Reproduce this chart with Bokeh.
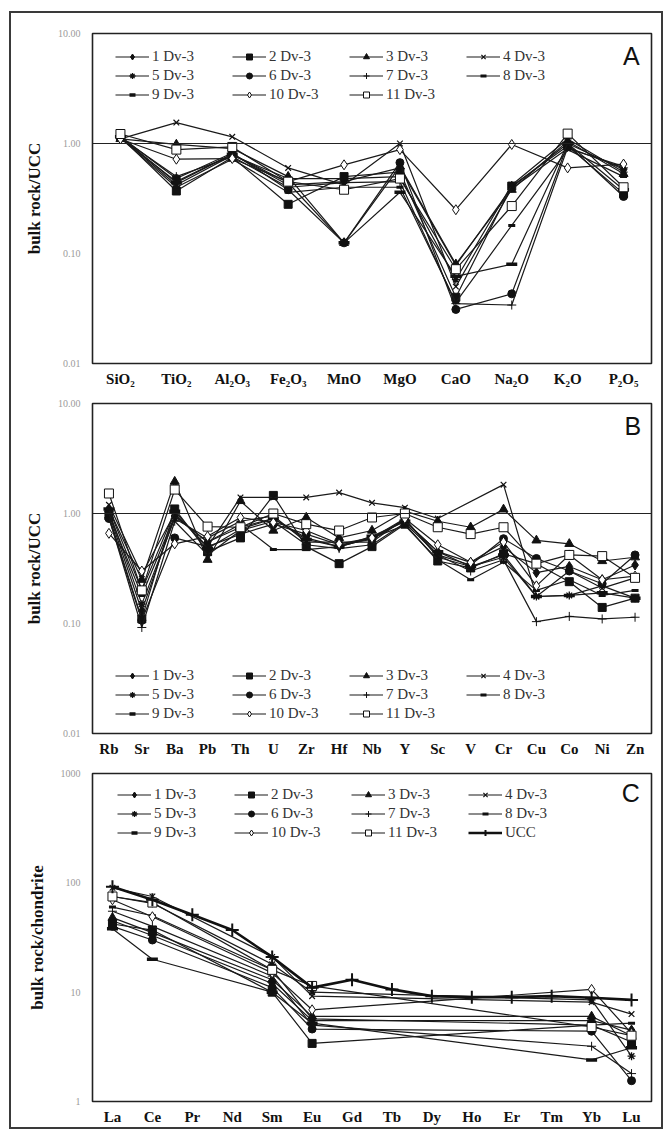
from bokeh.plotting import figure
from bokeh.models import FactorRange, Range1d, FixedTicker, Span, Legend, LegendItem, Label
from bokeh.layouts import column
from bokeh.embed import file_html
from bokeh.resources import INLINE

SAMPLES = ["1 Dv-3", "2 Dv-3", "3 Dv-3", "4 Dv-3", "5 Dv-3", "6 Dv-3",
           "7 Dv-3", "8 Dv-3", "9 Dv-3", "10 Dv-3", "11 Dv-3"]

# ---------- Panel A: major oxides / UCC ----------
OXIDES = ["SiO₂", "TiO₂", "Al₂O₃", "Fe₂O₃", "MnO", "MgO", "CaO", "Na₂O", "K₂O", "P₂O₅"]
A_1 = [1.12, 0.45, 0.80, 0.42, 0.45, 0.60, 0.078, 0.40, 1.00, 0.58]
A_2 = [1.15, 0.37, 0.75, 0.28, 0.50, 0.55, 0.040, 0.41, 0.95, 0.35]
A_3 = [1.10, 0.98, 0.90, 0.50, 0.125, 0.62, 0.080, 0.38, 1.05, 0.53]
A_4 = [1.10, 1.55, 1.15, 0.60, 0.42, 1.00, 0.050, 0.39, 0.90, 0.62]
A_5 = [1.14, 0.42, 0.78, 0.48, 0.48, 0.50, 0.058, 0.42, 1.10, 0.55]
A_6 = [1.16, 0.48, 0.82, 0.38, 0.125, 0.67, 0.031, 0.043, 0.98, 0.33]
A_7 = [1.13, 0.50, 0.76, 0.40, 0.44, 0.45, 0.035, 0.034, 0.92, 0.60]
A_8 = [1.12, 0.40, 0.72, 0.36, 0.40, 0.40, 0.036, 0.18, 0.88, 0.50]
A_9 = [1.15, 0.44, 0.80, 0.44, 0.125, 0.36, 0.062, 0.08, 1.00, 0.38]
A_10 = [1.10, 0.72, 0.73, 0.45, 0.64, 0.88, 0.25, 0.98, 0.60, 0.65]
A_11 = [1.22, 0.88, 0.93, 0.45, 0.38, 0.48, 0.072, 0.27, 1.23, 0.40]

# ---------- Panel B: trace elements / UCC ----------
TRACE = ["Rb", "Sr", "Ba", "Pb", "Th", "U", "Zr", "Hf", "Nb", "Y", "Sc", "V", "Cr", "Cu", "Co", "Ni", "Zn"]
B_1 = [1.00, 0.13, 0.95, 0.55, 0.75, 0.90, 0.60, 0.50, 0.60, 0.85, 0.45, 0.36, 0.50, 0.29, 0.33, 0.25, 0.34]
B_2 = [0.95, 0.11, 1.10, 0.45, 0.60, 1.46, 0.50, 0.35, 0.50, 0.80, 0.37, 0.32, 0.43, 0.35, 0.24, 0.14, 0.17]
B_3 = [1.10, 0.25, 1.95, 0.38, 1.30, 0.70, 0.92, 0.60, 0.70, 1.05, 0.85, 0.75, 1.09, 0.57, 0.53, 0.37, 0.40]
B_4 = [1.20, 0.28, 1.00, 0.50, 1.40, 1.40, 1.40, 1.55, 1.25, 1.13, 0.90, None, 1.83, 0.176, 0.30, 0.21, 0.26]
B_5 = [1.05, 0.15, 0.90, 0.60, 0.85, 0.95, 0.55, 0.55, 0.55, 0.90, 0.40, 0.33, 0.40, 0.176, 0.18, 0.22, 0.17]
B_6 = [0.90, 0.107, 0.60, 0.50, 0.65, 0.80, 0.65, 0.52, 0.58, 0.88, 0.42, 0.34, 0.59, 0.39, 0.30, 0.23, 0.42]
B_7 = [0.92, 0.092, 0.85, 0.42, 0.70, 0.85, 0.52, 0.48, 0.52, 0.82, 0.42, 0.30, 0.38, 0.104, 0.116, 0.11, 0.114]
B_8 = [1.00, 0.18, 0.95, 0.55, 0.80, 0.47, 0.47, 0.50, 0.60, 0.78, 0.38, 0.25, 0.36, 0.20, 0.25, 0.18, 0.20]
B_9 = [1.10, 0.20, 1.05, 0.48, 0.72, 0.90, 0.58, 0.50, 0.62, 0.85, 0.45, 0.33, 0.42, 0.176, 0.18, 0.19, 0.17]
B_10 = [0.66, 0.30, 0.53, 0.62, 0.92, 0.83, 0.70, 0.53, 0.60, 0.90, 0.52, 0.36, 0.55, 0.22, 0.42, 0.25, 0.27]
B_11 = [1.52, 0.20, 1.65, 0.76, 0.75, 1.00, 0.80, 0.70, 0.92, 1.00, 0.75, 0.65, 0.75, 0.35, 0.42, 0.41, 0.26]

# ---------- Panel C: REE / chondrite ----------
REE = ["La", "Ce", "Pr", "Nd", "Sm", "Eu", "Gd", "Tb", "Dy", "Ho", "Er", "Tm", "Yb", "Lu"]
N = None
C_1 = [45, 33, N, N, 12, 5.5, N, N, N, N, N, N, 5.5, 4.5]
C_2 = [42, 37, N, N, 10, 3.4, N, N, N, N, N, N, 5.0, 3.5]
C_3 = [48, 35, N, N, 13, 6.0, N, N, N, N, N, N, 6.0, 4.0]
C_4 = [90, 75, N, N, 21, 9.2, N, N, N, N, N, N, 8.1, 6.3]
C_5 = [75, 65, N, N, 18, 10.0, N, N, N, N, N, N, 8.5, 2.6]
C_6 = [40, 30, N, N, 11, 4.6, N, N, N, N, N, N, 4.4, 1.55]
C_7 = [55, 40, N, N, 14, 5.0, N, N, N, N, N, N, 3.2, 1.8]
C_8 = [60, 50, N, N, 16, 5.7, N, N, N, N, N, N, 5.0, 5.2]
C_9 = [38, 20, N, N, 10, 5.2, N, N, N, N, N, N, 2.4, 3.1]
C_10 = [70, 49, N, N, 15, 6.9, N, N, N, N, N, N, 10.6, 4.2]
C_11 = [75, 66, N, N, 16, 11.4, N, N, N, N, N, N, 4.8, 4.0]
C_UCC = [92, 70, 51, 37, 21, 11.0, 13, 10.6, 9.2, 9.0, 9.0, 9.2, 8.9, 8.5]

# marker styles per sample (style only)
STYLES = [
    dict(marker="diamond", size=10, fill_color="#111", line_width=1),
    dict(marker="square", size=8, fill_color="#111", line_width=1),
    dict(marker="triangle", size=9, fill_color="#111", line_width=1),
    dict(marker="x", size=8, fill_color="#111", line_width=1.2),
    dict(marker="asterisk", size=8, fill_color="#111", line_width=1.3),
    dict(marker="circle", size=8, fill_color="#111", line_width=1),
    dict(marker="cross", size=9, fill_color="#111", line_width=1),
    dict(marker="dash", size=7, fill_color="#111", line_width=3),
    dict(marker="dash", size=11, fill_color="#111", line_width=3.5),
    dict(marker="diamond", size=10, fill_color="white", line_width=1),
    dict(marker="square", size=9, fill_color="white", line_width=1),
]

# legend fills column-first; this order gives rows 1-4 / 5-8 / 9-11(+UCC)
LEGEND_ORDER = [0, 4, 8, 1, 5, 9, 2, 6, 10, 3, 7, 11]

SERIF = "Liberation Serif"


def make_panel(cats, series, height, borders, yr, ticks, tick_labels, ylabel,
               letter, letter_pos, legend_loc, ref_line, extra=None):
    top, bottom, left, right = borders
    p = figure(width=650, height=height, x_range=FactorRange(factors=cats),
               y_range=Range1d(*yr), y_axis_type="log",
               output_backend="svg", toolbar_location=None,
               min_border_top=top, min_border_bottom=bottom,
               min_border_left=left, min_border_right=right)
    p.grid.visible = False
    p.outline_line_color = "#222"
    p.outline_line_width = 1.6
    for ax in (p.xaxis, p.yaxis):
        ax.axis_line_color = None
        ax.major_tick_line_color = None
        ax.minor_tick_line_color = None
        ax.major_tick_out = 0
        ax.major_tick_in = 0
    p.yaxis.ticker = FixedTicker(ticks=ticks)
    p.yaxis.major_label_overrides = dict(zip(ticks, tick_labels))
    p.yaxis.major_label_text_font = SERIF
    p.yaxis.major_label_text_font_size = "10px"
    p.yaxis.major_label_text_color = "#9a9a9a"
    p.yaxis.major_label_standoff = 12
    p.yaxis.axis_label = ylabel
    p.yaxis.axis_label_text_font = SERIF
    p.yaxis.axis_label_text_font_style = "bold"
    p.yaxis.axis_label_text_font_size = "17px"
    p.yaxis.axis_label_text_color = "#111"
    p.yaxis.axis_label_standoff = 11
    p.xaxis.major_label_text_font = SERIF
    p.xaxis.major_label_text_font_style = "bold"
    p.xaxis.major_label_text_font_size = "15px"
    p.xaxis.major_label_text_color = "#111"
    p.xaxis.major_label_standoff = 7

    if ref_line:
        p.add_layout(Span(location=1.0, dimension="width", line_color="#222", line_width=1.2))

    items = []
    for name, vals, st in zip(SAMPLES, series, STYLES):
        xs = [c for c, v in zip(cats, vals) if v is not None]
        ys = [v for v in vals if v is not None]
        lr = p.line(xs, ys, line_color="#1a1a1a", line_width=1.2)
        sr = p.scatter(xs, ys, marker=st["marker"], size=st["size"],
                       fill_color=st["fill_color"], line_color="#111",
                       line_width=st["line_width"])
        items.append(LegendItem(label=name, renderers=[lr, sr]))
    if extra is not None:
        name, vals = extra
        lr = p.line(cats, vals, line_color="#111", line_width=2.6)
        sr = p.scatter(cats, vals, marker="cross", size=13, line_color="#111", line_width=2)
        items.append(LegendItem(label=name, renderers=[lr, sr]))

    ordered = [items[i] for i in LEGEND_ORDER if i < len(items)]
    leg = Legend(items=ordered, ncols=4, location=legend_loc,
                 border_line_color=None, background_fill_alpha=0,
                 label_text_font=SERIF, label_text_font_size="15px",
                 label_text_color="#333", glyph_width=34, glyph_height=15,
                 label_standoff=3, label_width=78, label_height=14,
                 spacing=2, padding=0, margin=0)
    p.add_layout(leg)

    p.add_layout(Label(x=letter_pos[0], y=letter_pos[1], text=letter,
                       text_font="Liberation Sans", text_font_size="25px",
                       text_color="#111", text_align="center", text_baseline="middle"))
    return p


pA = make_panel(OXIDES, [A_1, A_2, A_3, A_4, A_5, A_6, A_7, A_8, A_9, A_10, A_11],
                382, (20, 32, 79, 9), (0.01, 10), [0.01, 0.1, 1, 10],
                ["0.01", "0.10", "1.00", "10.00"], "bulk rock/UCC",
                "A", (9.64, 6.2), (23, 260), True)
pB = make_panel(TRACE, [B_1, B_2, B_3, B_4, B_5, B_6, B_7, B_8, B_9, B_10, B_11],
                370, (8, 32, 77, 10), (0.01, 10), [0.01, 0.1, 1, 10],
                ["0.01", "0.10", "1.00", "10.00"], "bulk rock/UCC",
                "B", (16.43, 6.3), (23, 11), True)
pC = make_panel(REE, [C_1, C_2, C_3, C_4, C_5, C_6, C_7, C_8, C_9, C_10, C_11],
                362, (8, 24, 81, 5), (1, 1000), [1, 10, 100, 1000],
                ["1", "10", "100", "1000"], "bulk rock/chondrite",
                "C", (13.48, 658), (25, 260), False, extra=("UCC", C_UCC))

layout = column(pA, pB, pC, spacing=0,
                styles={"border": "2px solid #3a3a3a", "margin-left": "9px", "margin-top": "11px"})

open("out.html", "w").write(file_html(layout, INLINE))
